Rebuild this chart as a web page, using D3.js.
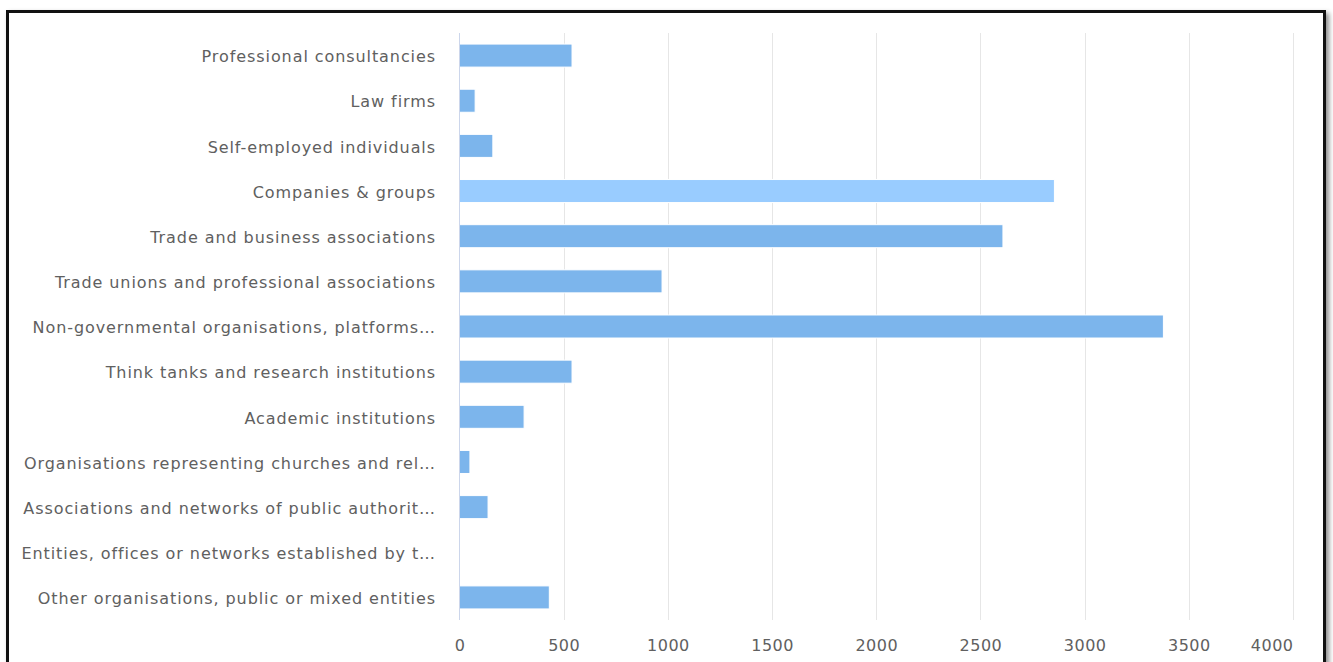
<!DOCTYPE html>
<html>
<head>
<meta charset="utf-8">
<script src="https://cdn.jsdelivr.net/npm/d3@7"></script>
<style>
  html, body { margin: 0; padding: 0; background: #fff; }
  #frame {
    position: absolute; left: 6px; top: 10px; width: 1314px; height: 670px;
    border: 3px solid #111; box-shadow: 3px 3px 5px rgba(0,0,0,0.45);
    background: #fff;
  }
  svg { position: absolute; left: 0; top: 0; }
  text { font-family: "DejaVu Sans", sans-serif; }
</style>
</head>
<body>
<div id="frame"></div>
<svg id="chart" width="1333" height="662"></svg>
<script>
// Organisation categories and registrant counts
const categories = [
  "Professional consultancies",
  "Law firms",
  "Self-employed individuals",
  "Companies & groups",
  "Trade and business associations",
  "Trade unions and professional associations",
  "Non-governmental organisations, platforms…",
  "Think tanks and research institutions",
  "Academic institutions",
  "Organisations representing churches and rel…",
  "Associations and networks of public authorit…",
  "Entities, offices or networks established by t…",
  "Other organisations, public or mixed entities"
];
const counts = [540, 75, 160, 2855, 2608, 972, 3378, 540, 310, 50, 137, 0, 431];
const highlighted = "Companies & groups";
const tickValues = [0, 500, 1000, 1500, 2000, 2500, 3000, 3500, 4000];

const svg = d3.select("#chart");
const plotLeft = 459.5, plotRight = 1293, plotTop = 33, plotBottom = 620;

const x = d3.scaleLinear().domain([0, 4000]).range([plotLeft, plotRight]);
const y = d3.scaleBand().domain(categories).range([plotTop, plotBottom]).paddingInner(0.49).paddingOuter(0.245);

// vertical grid lines
svg.append("g").selectAll("line").data(tickValues.slice(1)).join("line")
  .attr("x1", d => Math.round(x(d)) + 0.5).attr("x2", d => Math.round(x(d)) + 0.5)
  .attr("y1", plotTop).attr("y2", plotBottom)
  .attr("stroke", "#e6e6e6").attr("stroke-width", 1);

// bars
svg.append("g").selectAll("rect").data(categories).join("rect")
  .attr("x", x(0))
  .attr("y", d => y(d))
  .attr("width", (d, i) => x(counts[i]) - x(0))
  .attr("height", y.bandwidth())
  .attr("fill", d => d === highlighted ? "#99ccff" : "#7cb5ec")
  .attr("stroke", "#ffffff").attr("stroke-width", 1);

// category axis line
svg.append("line")
  .attr("x1", plotLeft).attr("x2", plotLeft).attr("y1", plotTop).attr("y2", plotBottom)
  .attr("stroke", "#ccd6eb").attr("stroke-width", 1);

// category labels
svg.append("g").selectAll("text").data(categories).join("text")
  .attr("x", 436)
  .attr("y", d => y(d) + y.bandwidth() / 2)
  .attr("dy", "0.42em")
  .attr("text-anchor", "end")
  .attr("font-size", 16)
  .attr("letter-spacing", 0.92)
  .attr("fill", "#606060")
  .text(d => d);

// value axis labels (the last one is pulled inside the plot edge)
const xAxis = d3.axisBottom(x).tickValues(tickValues).tickSize(0).tickPadding(0).tickFormat(d3.format("d"));
const gx = svg.append("g").attr("transform", "translate(0, 651)").call(xAxis);
gx.select(".domain").remove();
gx.selectAll("text").attr("font-size", 16).attr("letter-spacing", 0.5).attr("fill", "#606060")
  .attr("font-family", "DejaVu Sans, sans-serif")
  .attr("dy", 0)
  .attr("text-anchor", d => d === 4000 ? "end" : "middle")
  .attr("x", d => d === 4000 ? 0 : 0);
</script>
</body>
</html>
